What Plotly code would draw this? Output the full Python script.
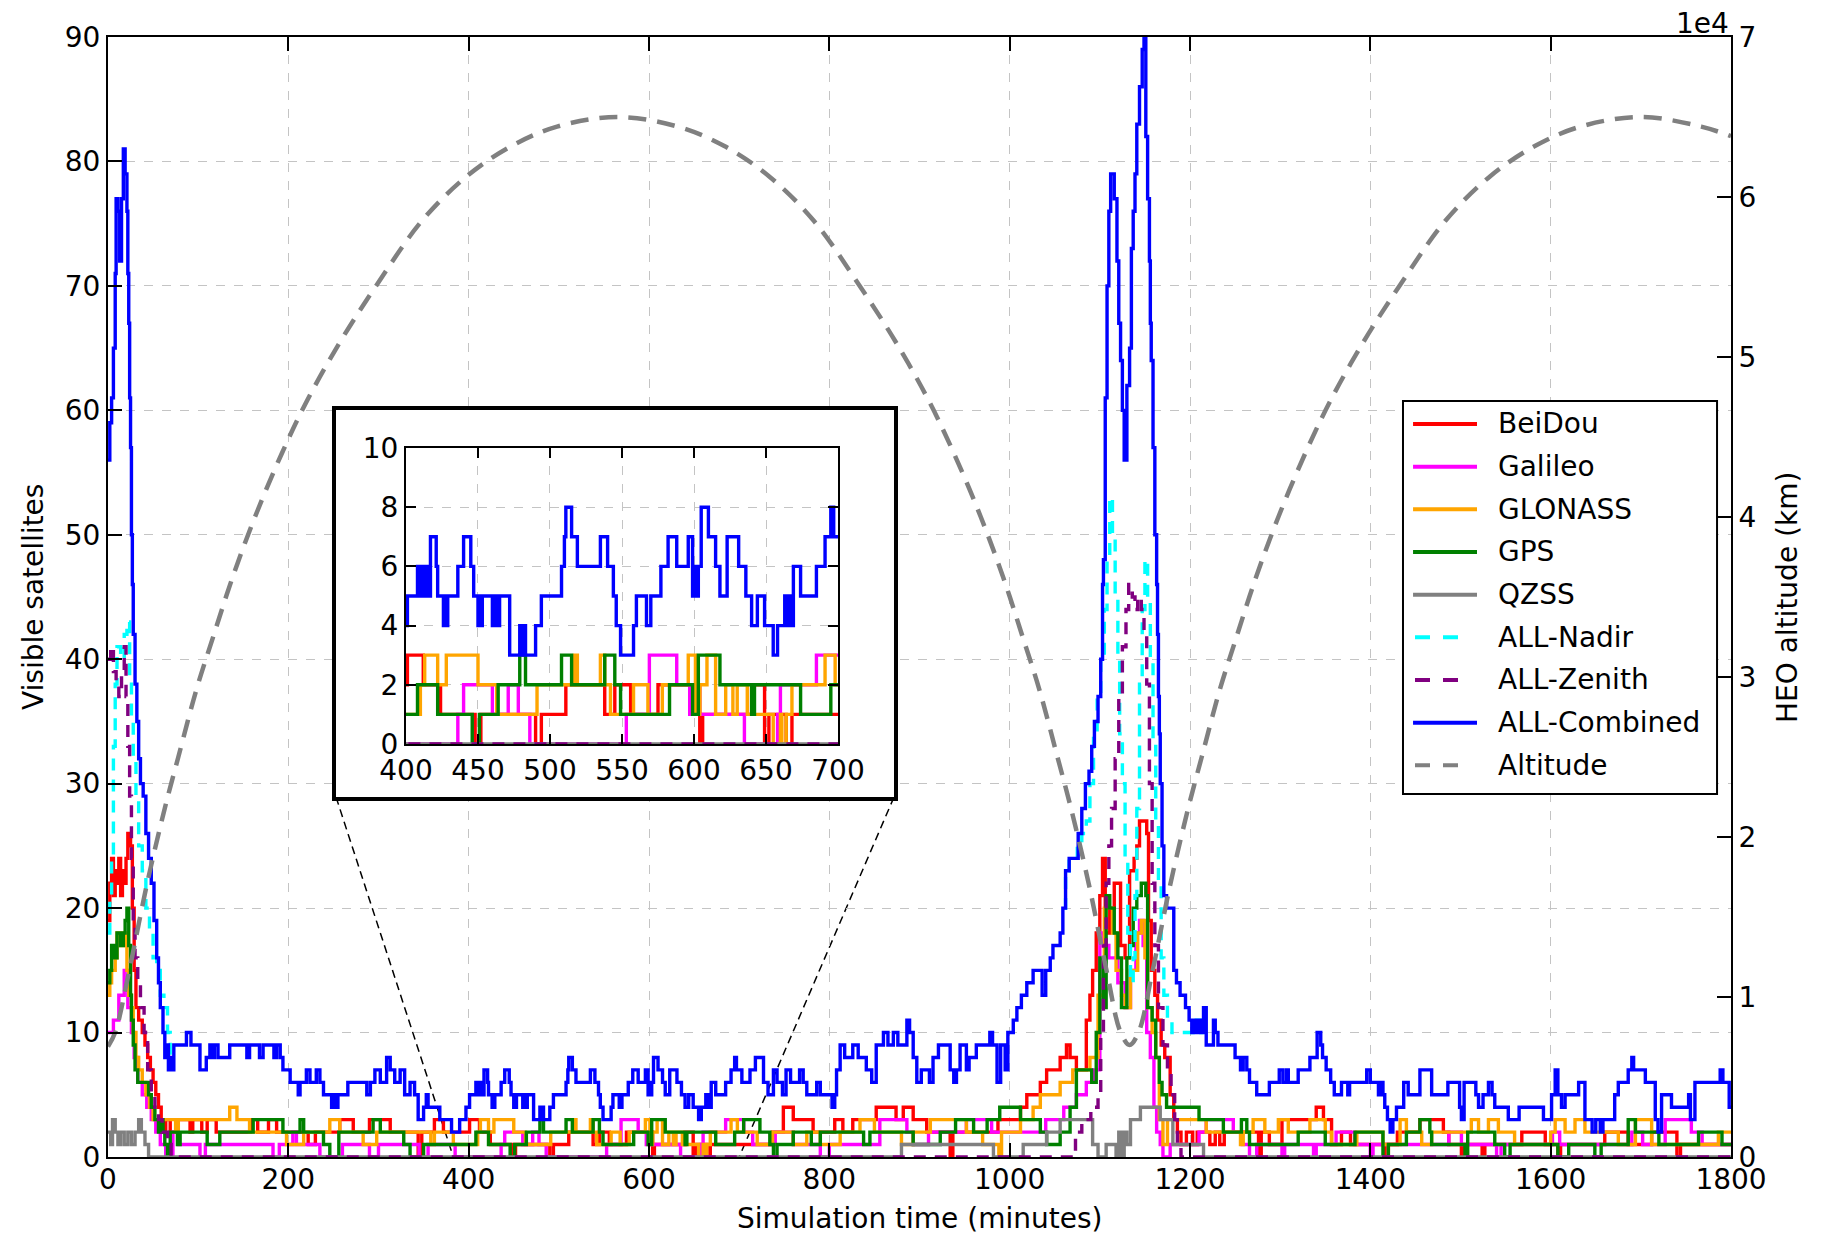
import plotly.graph_objects as go

FONT = "DejaVu Sans"

# ---------------- data: change points (value holds from t until next t) ----------------
beidou_t = [0,2,4,6,8,10,12,14,16,18,20,22,25,27,29,31,34,38,41,44,47,50,53,56,59,62,64,69,76,91,94,104,110,120,158,166,178,187,222,230,257,272,290,313,344,348,362,372,401,412,424,448,452,490,494,511,538,545,556,575,604,606,640,649,652,664,668,737,749,760,782,806,815,826,852,874,882,893,908,934,937,987,1012,1019,1034,1041,1056,1063,1067,1074,1085,1089,1092,1096,1100,1103,1106,1111,1116,1123,1128,1133,1138,1141,1144,1152,1154,1157,1161,1164,1168,1172,1178,1182,1186,1190,1196,1203,1208,1222,1228,1233,1238,1276,1279,1288,1302,1340,1348,1357,1368,1378,1416,1420,1430,1455,1481,1487,1501,1504,1524,1527,1568,1594,1608,1611,1660,1686,1712,1740,1744,1800]
beidou_v = [19,22,24,21,23,22,24,21,23,22,24,26,25,20,15,12,11,10,9,8,7,6,5,4,3,2,3,2,3,2,3,2,3,2,3,2,3,2,1,2,3,2,3,2,0,2,3,2,3,2,1,0,1,0,1,2,1,2,1,2,0,1,2,0,1,0,1,2,4,3,2,3,2,3,4,3,4,3,2,0,2,3,4,5,6,7,8,9,8,7,11,13,15,18,21,24,18,20,22,17,16,23,24,25,27,26,19,15,13,11,9,8,5,3,2,1,2,1,2,1,2,1,2,0,2,1,3,4,3,1,2,1,0,1,2,3,2,1,0,1,0,1,2,1,0,1,2,1,2,0,1,1]

galileo_t = [0,6,12,18,22,26,29,33,38,43,48,53,58,64,72,78,102,108,183,190,205,209,235,260,290,300,345,355,385,436,440,460,471,478,486,553,569,588,597,635,658,660,685,705,715,740,760,790,800,856,886,893,910,952,980,1040,1060,1074,1085,1093,1100,1104,1110,1120,1128,1134,1140,1144,1148,1152,1156,1160,1163,1167,1170,1178,1210,1218,1248,1258,1266,1274,1302,1305,1337,1340,1362,1383,1400,1403,1487,1501,1540,1545,1602,1610,1690,1702,1727,1756,1768,1800]
galileo_v = [10,11,13,15,12,10,8,6,5,4,3,2,1,0,2,1,0,1,0,1,2,1,0,1,0,1,0,1,0,1,2,1,2,1,0,1,3,2,1,0,1,2,3,2,1,2,1,0,1,3,2,1,2,3,2,3,4,5,6,7,18,17,16,14,12,15,18,19,17,10,8,4,2,1,0,1,2,3,2,1,0,1,0,1,0,1,2,1,0,1,2,1,0,1,2,1,2,1,3,2,1,1]

glonass_t = [0,2,4,8,10,14,18,21,23,26,28,31,34,38,42,46,50,75,78,135,143,157,198,217,246,257,283,298,358,362,383,410,413,422,428,450,463,491,517,519,535,538,542,558,568,578,596,601,604,609,615,622,627,630,637,655,660,661,664,668,691,698,720,737,760,775,790,812,834,850,880,893,912,952,970,988,991,1012,1026,1034,1056,1070,1089,1098,1105,1114,1118,1124,1128,1134,1142,1146,1150,1153,1158,1162,1166,1170,1175,1218,1256,1259,1270,1283,1298,1309,1333,1350,1357,1385,1414,1433,1440,1457,1468,1512,1520,1531,1542,1560,1600,1605,1616,1627,1638,1675,1694,1712,1786,1800]
glonass_v = [13,14,15,16,18,17,18,15,13,12,10,8,7,6,5,4,3,2,3,4,3,2,1,2,3,2,1,2,1,2,1,2,3,2,3,2,1,2,3,2,3,2,1,2,1,2,3,1,2,3,1,2,1,2,1,0,1,0,1,2,3,2,1,2,1,2,1,2,3,2,1,2,3,2,1,0,2,3,4,5,6,7,8,13,20,18,15,13,12,15,18,19,16,12,10,8,3,1,3,2,1,2,3,2,3,2,3,2,1,2,1,3,2,1,2,3,2,3,2,1,2,3,2,3,2,1,3,1,2,2]

gps_t = [0,2,4,7,10,14,17,19,21,23,25,26,28,30,33,45,48,52,56,59,61,63,66,69,77,80,110,124,161,194,213,217,239,246,256,294,302,328,335,350,408,422,446,451,464,479,483,508,515,538,545,549,583,599,603,618,640,642,674,695,705,723,734,738,742,760,780,790,838,845,893,923,940,960,975,989,1012,1034,1041,1056,1067,1074,1091,1096,1100,1104,1107,1111,1116,1120,1124,1130,1133,1137,1141,1146,1151,1153,1158,1162,1166,1169,1174,1210,1237,1257,1263,1266,1320,1350,1383,1414,1420,1440,1455,1466,1468,1505,1508,1538,1549,1555,1608,1620,1649,1656,1686,1694,1720,1764,1790,1800]
gps_v = [14,15,17,16,18,17,18,19,20,17,13,11,9,7,6,5,4,3,2,3,2,1,0,2,1,2,1,2,3,2,3,2,1,0,2,3,2,1,0,1,2,1,0,1,2,3,2,3,2,3,2,1,2,1,3,2,1,2,1,2,3,2,1,0,1,2,1,2,1,2,1,2,3,2,3,4,3,2,1,2,4,7,6,10,16,12,21,20,18,16,12,16,17,20,21,22,21,12,11,8,6,5,4,3,2,3,2,1,2,1,2,0,1,2,3,2,1,0,2,1,0,1,0,1,0,1,3,2,1,2,1,1]

qzss_t = [0,3,5,8,11,14,18,22,26,30,34,37,41,45,880,982,1015,1041,1056,1092,1098,1107,1118,1121,1124,1127,1130,1134,1145,1167,1181,1215,1800]
qzss_v = [2,1,3,2,1,2,1,2,1,2,3,2,1,0,1,0,1,2,3,1,0,1,0,2,0,2,1,3,4,3,1,0,0]

# ALL-Nadir is only visible (not under ALL-Combined) during the two close passes
nadir_t1 = [0,2,4,6,8,10,14,18,21,24,26,28,31,34,38,42,46,50,54,58,62,66,69,72]
nadir_v1 = [18,21,24,33,38,41,40,42,43,38,35,32,29,25,23,20,18,16,15,13,12,10,8,8]
nadir_t2 = [1060,1062,1066,1075,1080,1085,1089,1093,1097,1101,1105,1108,1111,1114,1117,1120,1122,1125,1128,1131,1134,1137,1139,1141,1144,1147,1150,1153,1156,1159,1162,1165,1168,1171,1175,1180,1207,1212,1215]
nadir_v2 = [20,23,24,25,26,27,30,34,37,40,44,48,53,50,45,40,34,30,24,18,14,16,21,28,38,44,48,45,40,33,27,22,16,13,11,10,11,10,10]

zenith_t = [0,3,6,9,12,15,18,20,22,24,26,28,30,33,36,40,44,48,52,56,60,66,70,1073,1080,1090,1098,1101,1104,1107,1110,1113,1117,1121,1125,1129,1132,1136,1139,1142,1146,1149,1152,1155,1158,1161,1165,1170,1175,1179,1183,1186,1190,1800]
zenith_v = [40,41,39,38,37,39,41,37,33,29,24,19,16,14,12,10,7,5,4,3,2,1,0,2,3,4,5,10,17,22,25,28,32,37,41,44,46,45,44,45,44,42,38,30,22,17,12,9,7,5,3,1,0,0]

combined_t = [0,2,4,6,8,9,11,13,15,17,19,21,22,23,24,25,26,27,28,30,32,34,36,39,42,45,48,51,54,56,58,61,63,65,67,69,71,73,87,92,102,109,113,116,118,122,135,154,157,168,172,184,187,191,194,202,211,213,220,224,231,235,239,248,251,252,255,266,287,291,296,302,309,313,318,324,329,335,340,344,350,353,355,368,381,390,397,401,408,409,411,412,414,415,417,421,422,426,427,428,429,436,440,445,447,450,451,452,453,460,462,463,465,472,479,481,482,483,490,494,508,510,511,515,519,535,540,544,546,549,558,560,567,570,577,582,588,596,599,600,601,603,605,610,615,618,623,631,636,640,644,649,655,658,663,664,666,667,669,674,685,691,695,697,703,712,718,727,732,738,742,748,752,757,767,771,775,786,790,803,806,808,812,817,826,832,841,847,852,860,865,871,876,886,889,893,897,902,911,915,921,934,938,941,945,952,955,963,978,981,986,990,995,998,1004,1008,1013,1019,1026,1036,1040,1045,1048,1056,1059,1062,1066,1076,1080,1084,1088,1091,1094,1098,1101,1103,1104,1106,1108,1110,1112,1116,1119,1121,1123,1125,1127,1130,1133,1135,1137,1139,1141,1144,1147,1149,1151,1153,1155,1156,1157,1159,1161,1163,1164,1165,1166,1167,1169,1171,1174,1182,1185,1189,1195,1199,1202,1204,1207,1209,1212,1215,1218,1226,1228,1231,1250,1256,1259,1263,1266,1274,1288,1299,1303,1307,1309,1320,1333,1341,1345,1347,1351,1356,1360,1368,1375,1377,1396,1400,1409,1411,1414,1416,1419,1422,1425,1429,1437,1442,1455,1468,1486,1499,1501,1504,1517,1520,1525,1531,1535,1538,1553,1565,1592,1601,1605,1608,1612,1616,1631,1638,1646,1650,1655,1658,1671,1675,1686,1690,1692,1705,1716,1719,1723,1734,1753,1755,1760,1788,1791,1798,1800]
combined_v = [56,59,61,65,71,77,76,72,77,81,79,76,71,67,61,57,50,46,42,38,35,32,30,29,26,24,22,19,16,14,12,10,8,9,7,8,7,9,10,9,7,8,9,8,9,8,9,8,9,8,9,8,9,8,7,6,5,6,7,6,7,6,5,4,5,4,5,6,5,6,7,6,8,7,6,7,5,6,5,3,4,5,4,3,2,3,4,5,6,5,6,5,6,5,7,6,5,4,5,4,5,6,7,6,5,4,5,4,5,4,5,4,5,3,4,3,4,3,4,5,6,7,8,7,6,7,6,5,4,3,4,5,4,5,6,7,6,7,5,6,5,6,8,7,6,5,7,6,5,4,5,4,3,4,5,4,5,4,6,5,6,7,8,7,6,7,8,6,5,7,6,5,7,6,7,6,5,6,5,4,5,7,9,8,9,8,7,6,9,10,9,10,9,11,10,8,6,7,6,8,9,7,6,7,9,7,8,9,10,9,6,9,7,10,11,12,13,14,15,13,15,16,17,18,20,23,24,26,28,30,31,33,35,37,40,46,48,61,70,76,79,77,72,67,64,60,56,62,65,73,76,79,83,86,89,90,82,77,72,67,64,57,50,46,42,37,34,30,25,21,20,15,14,13,12,11,10,11,10,11,10,12,9,11,10,9,8,7,8,7,6,5,6,7,6,7,6,7,8,10,9,8,7,6,5,6,5,6,7,6,5,6,5,4,3,2,3,4,6,5,7,5,6,4,3,6,5,4,5,6,5,4,3,4,3,5,7,5,4,5,6,3,2,3,2,3,5,6,7,8,7,6,3,2,5,4,5,3,6,7,6,4,4]

# HEO altitude (km)
alt_t = [0,8,23,43,63,78,98,116,138,163,193,221,258,298,348,398,448,498,565,632,683,733,783,833,873,910,938,968,993,1015,1033,1053,1068,1088,1108,1123,1133,1143,1158,1178,1198,1213,1233,1251,1273,1298,1328,1356,1393,1433,1483,1533,1583,1633,1700,1767,1800]
alt_km = [6900,7800,11500,17000,21800,25000,29200,32400,36200,40000,44000,47300,51000,54500,58500,61300,63200,64400,65000,64400,63200,61300,58500,54500,51000,47300,44000,40000,36200,32400,29200,25000,21800,17000,11500,7800,7000,7800,11500,17000,21800,25000,29200,32400,36200,40000,44000,47300,51000,54500,58500,61300,63200,64400,65000,64400,63800]

x_ticks = list(range(0, 1801, 200))
y_ticks = list(range(0, 91, 10))
alt_ticks = list(range(0, 70001, 10000))
alt_ticktext = [str(v // 10000) for v in alt_ticks]
inset_x_ticks = list(range(400, 701, 50))
inset_y_ticks = list(range(0, 11, 2))
inset_connect = [383, 700]   # where the zoom connector lines meet the time axis

# ---------------- styling ----------------
DASH = "12px,9px"
series = [
    ("BeiDou", beidou_t, beidou_v, "#ff0000", None),
    ("Galileo", galileo_t, galileo_v, "#ff00ff", None),
    ("GLONASS", glonass_t, glonass_v, "#ffa500", None),
    ("GPS", gps_t, gps_v, "#008000", None),
    ("QZSS", qzss_t, qzss_v, "#808080", None),
    ("ALL-Nadir", nadir_t1 + [None] + nadir_t2, nadir_v1 + [None] + nadir_v2, "#00ffff", DASH),
    ("ALL-Zenith", zenith_t, zenith_v, "#800080", DASH),
    ("ALL-Combined", combined_t, combined_v, "#0000ff", None),
]
ALT_COLOR = "#808080"
ALT_DASH = "18px,11px"

fig = go.Figure()
for name, t, v, col, dash in series:
    fig.add_trace(go.Scatter(x=t, y=v, mode="lines", name=name, line_shape="hv",
                             line=dict(color=col, width=3.4, dash=dash), xaxis="x", yaxis="y",
                             connectgaps=False, showlegend=False))
fig.add_trace(go.Scatter(x=alt_t, y=alt_km, mode="lines", name="Altitude", line_shape="spline",
                         line=dict(color=ALT_COLOR, width=4.5, dash=ALT_DASH),
                         xaxis="x", yaxis="y2", showlegend=False))
# white framed box holding the inset
fig.add_trace(go.Scatter(x=[None], y=[None], xaxis="x3", yaxis="y3", showlegend=False,
                         hoverinfo="skip"))
for name, t, v, col, dash in series:
    fig.add_trace(go.Scatter(x=t, y=v, mode="lines", name=name, line_shape="hv", showlegend=False,
                             line=dict(color=col, width=3.4, dash=dash), xaxis="x4", yaxis="y4",
                             connectgaps=False))

# paper geometry (plot area: 108..1731 px wide, 37..1157 px tall)
box_x = [0.1405, 0.4843]
box_y = [0.3214, 0.6670]
in_x = [0.1836, 0.4498]
in_y = [0.3688, 0.6330]

axis_common = dict(ticks="inside", ticklen=14, tickwidth=1.5, tickcolor="black",
                   showline=True, linecolor="black", linewidth=2, zeroline=False,
                   tickfont=dict(size=28, family=FONT, color="black"))
grid = dict(showgrid=True, gridcolor="#c4c4c4", griddash="dash", gridwidth=1.3)

fig.update_layout(
    width=1823, height=1234,
    margin=dict(l=108, r=92, t=37, b=77, autoexpand=False),
    paper_bgcolor="white", plot_bgcolor="white",
    font=dict(family=FONT, size=28, color="black"),
    xaxis=dict(domain=[0, 1], range=[0, 1800], tickvals=x_ticks, mirror="ticks", anchor="y",
               ticklabelstandoff=-4, **axis_common, **grid),
    yaxis=dict(domain=[0, 1], range=[0, 90], tickvals=y_ticks, mirror=True, anchor="x",
               **axis_common, **grid),
    yaxis2=dict(overlaying="y", side="right", range=[0, 70000], tickvals=alt_ticks,
                ticktext=alt_ticktext, showgrid=False, anchor="x", **axis_common),
    xaxis3=dict(domain=box_x, range=[0, 1], anchor="y3", showticklabels=False, ticks="",
                showgrid=False, zeroline=False, showline=True, mirror=True, linewidth=3.5,
                linecolor="black", fixedrange=True),
    yaxis3=dict(domain=box_y, range=[0, 1], anchor="x3", showticklabels=False, ticks="",
                showgrid=False, zeroline=False, showline=True, mirror=True, linewidth=3.5,
                linecolor="black", fixedrange=True),
    xaxis4=dict(domain=in_x, range=[400, 700], tickvals=inset_x_ticks, anchor="y4",
                mirror="ticks", **dict(axis_common, ticklen=10), **grid),
    yaxis4=dict(domain=in_y, range=[0, 10], tickvals=inset_y_ticks, anchor="x4",
                mirror="ticks", **dict(axis_common, ticklen=10), **grid),
    showlegend=False,
)

annotations = [
    dict(text="Simulation time (minutes)", x=0.5, y=-0.0545, xref="paper", yref="paper",
         showarrow=False, xanchor="center", yanchor="middle", font=dict(size=28)),
    dict(text="Visible satellites", x=-0.0462, y=0.5, xref="paper", yref="paper",
         showarrow=False, textangle=-90, xanchor="center", yanchor="middle", font=dict(size=28)),
    dict(text="HEO altitude (km)", x=1.0345, y=0.5, xref="paper", yref="paper",
         showarrow=False, textangle=-90, xanchor="center", yanchor="middle", font=dict(size=28)),
    dict(text="1e4", x=1.0, y=1.0125, xref="paper", yref="paper", showarrow=False,
         xanchor="right", yanchor="middle", font=dict(size=28)),
]

shapes = []
for bx, tx in zip(box_x, inset_connect):
    shapes.append(dict(type="line", xref="paper", yref="paper", x0=bx, y0=box_y[0],
                       x1=tx / 1800, y1=0, layer="below",
                       line=dict(color="black", width=1.5, dash="8px,5px")))

# ---- legend box (drawn as framed key so line samples match the original length) ----
leg_x0, leg_x1 = 0.7979, 0.9914
leg_y1, leg_y0 = 0.675, 0.3241
row0, row_step = 0.6545, 0.0381          # centre of first row, spacing (paper units)
line_x0, line_x1 = 0.8041, 0.8435
dash_x1 = 0.8320
text_x = 0.8552
shapes.append(dict(type="rect", xref="paper", yref="paper", x0=leg_x0, x1=leg_x1,
                   y0=leg_y0, y1=leg_y1, layer="above", fillcolor="white",
                   line=dict(color="black", width=2)))
legend_items = [(n, c, d) for n, _, _, c, d in series] + [("Altitude", ALT_COLOR, "dash")]
for i, (name, col, dash) in enumerate(legend_items):
    yy = row0 - i * row_step
    if dash:
        shapes.append(dict(type="line", xref="paper", yref="paper", x0=line_x0 + 0.0012,
                           x1=dash_x1, y0=yy, y1=yy, layer="above",
                           line=dict(color=col, width=4, dash="15px,13px")))
    else:
        shapes.append(dict(type="line", xref="paper", yref="paper", x0=line_x0, x1=line_x1,
                           y0=yy, y1=yy, layer="above", line=dict(color=col, width=4)))
    annotations.append(dict(text=name, x=text_x, y=yy, xref="paper", yref="paper",
                            showarrow=False, xanchor="left", yanchor="middle",
                            font=dict(size=28)))

fig.update_layout(annotations=annotations, shapes=shapes)

fig.write_html("out.html", config={"displayModeBar": False},
               post_script="document.body.style.margin='0px';")
